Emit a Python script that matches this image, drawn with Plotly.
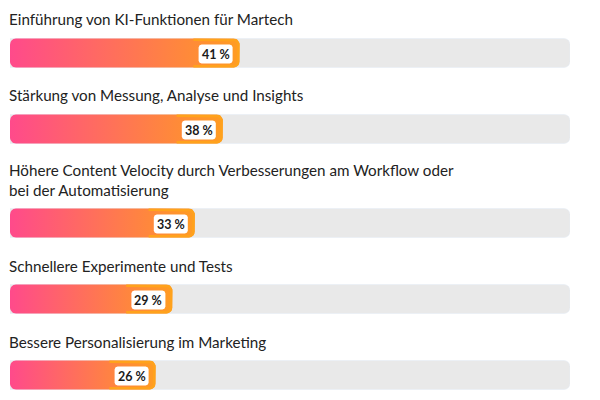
import numpy as np
import plotly.graph_objects as go

# survey results
categories = [
    'Einführung von KI-Funktionen für Martech',
    'Stärkung von Messung, Analyse und Insights',
    'Höhere Content Velocity durch Verbesserungen am Workflow oder<br>bei der Automatisierung',
    'Schnellere Experimente und Tests',
    'Bessere Personalisierung im Marketing',
]
values = [41, 38, 33, 29, 26]
value_labels = ['41 %', '38 %', '33 %', '29 %', '26 %']

W, H = 600, 400
ML, MR = 10, 30
PX = 100 / (W - ML - MR)      # x units per pixel
BAR_H = 29

# bar centres in pixels (y axis runs in pixels, top down);
# a two-line label pushes the following bars down
ypos = [53]
for i in range(1, len(categories)):
    ypos.append(ypos[-1] + 76 + 18 * categories[i].count('<br>'))


def rounded_rect(x0, x1, yc, h, r):
    rx = r * PX
    y0, y1 = yc - h / 2, yc + h / 2
    xs, ys = [], []
    corners = [(x1 - rx, y0 + r, -90, 0), (x1 - rx, y1 - r, 0, 90),
               (x0 + rx, y1 - r, 90, 180), (x0 + rx, y0 + r, 180, 270)]
    for cx, cy, a0, a1 in corners:
        t = np.radians(np.linspace(a0, a1, 8))
        xs += list(cx + rx * np.cos(t))
        ys += list(cy + r * np.sin(t))
    xs.append(xs[0])
    ys.append(ys[0])
    return xs, ys


def right_end(x1, yc, h, r, length):
    rx = r * PX
    y0, y1 = yc - h / 2, yc + h / 2
    xs, ys = [x1 - length * PX], [y0]
    t = np.radians(np.linspace(-90, 0, 8))
    xs += list(x1 - rx + rx * np.cos(t))
    ys += list(y0 + r + r * np.sin(t))
    t = np.radians(np.linspace(0, 90, 8))
    xs += list(x1 - rx + rx * np.cos(t))
    ys += list(y1 - r + r * np.sin(t))
    xs.append(x1 - length * PX)
    ys.append(y1)
    return xs, ys


fig = go.Figure()

# grey track
fig.add_trace(go.Bar(x=[100] * len(values), y=ypos, orientation='h', width=BAR_H,
                     marker=dict(color='#e9e9e9', cornerradius=6), hoverinfo='skip'))

annotations = []
for cat, v, lab, yc in zip(categories, values, value_labels, ypos):
    xs, ys = rounded_rect(0, v, yc, BAR_H, 6)
    fig.add_trace(go.Scatter(x=xs, y=ys, mode='lines', fill='toself',
                             line=dict(width=0, color='rgba(0,0,0,0)'),
                             fillgradient=dict(type='horizontal',
                                               colorscale=[[0, '#ff4a8b'], [1, '#ff9c22']]),
                             hoverinfo='skip'))
    # orange rim on the right end
    bx, by = right_end(v - 1.2 * PX, yc, BAR_H - 2.4, 5, 45)
    fig.add_trace(go.Scatter(x=bx, y=by, mode='lines',
                             line=dict(width=2.4, color='#ffa21c'), hoverinfo='skip'))
    # white value box
    bw, bh = 34, 19
    x1 = v - 7 * PX
    wx, wy = rounded_rect(x1 - bw * PX, x1, yc + 1, bh, 3)
    fig.add_trace(go.Scatter(x=wx, y=wy, mode='lines', fill='toself', fillcolor='white',
                             line=dict(width=0, color='white'), hoverinfo='skip'))
    annotations.append(dict(x=x1 - bw * PX / 2, y=yc + 1, text='<b>%s</b>' % lab,
                            showarrow=False, xanchor='center', yanchor='middle',
                            font=dict(size=12.5, color='#1a1a1a', family='Lato')))
    annotations.append(dict(x=0, y=yc - BAR_H / 2 - 8, text=cat, showarrow=False,
                            xanchor='left', yanchor='bottom', align='left', xshift=-3,
                            font=dict(size=15.2, color='#222222', family='Lato')))

fig.update_layout(
    width=W, height=H,
    margin=dict(l=ML, r=MR, t=0, b=0),
    paper_bgcolor='white', plot_bgcolor='white',
    showlegend=False,
    xaxis=dict(range=[0, 100], visible=False, fixedrange=True),
    yaxis=dict(range=[H, 0], visible=False, fixedrange=True),
    annotations=annotations,
)

# drop the page's default body margin so the chart sits at the window corner
fig.write_html("out.html", config={'displayModeBar': False},
               post_script="document.body.style.margin='0';")
